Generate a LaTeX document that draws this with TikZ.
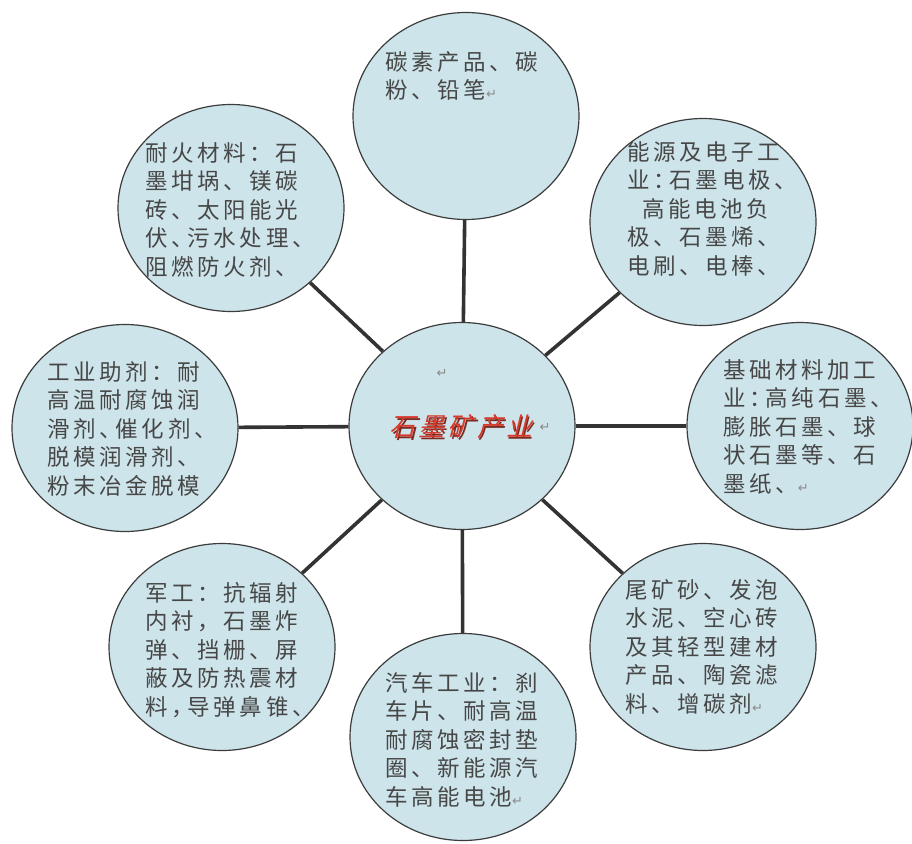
\documentclass[tikz,border=0pt]{standalone}
\usepackage{fontspec}
\usetikzlibrary{shapes.geometric}
\newfontfamily\cjk[LetterSpace=16]{Noto Sans CJK SC}
\newfontfamily\cjkslant[FakeSlant=0.25,LetterSpace=12]{Noto Sans CJK SC}
\newfontfamily\dvs{DejaVu Sans}
\definecolor{fillblue}{HTML}{CDE4EA}
\definecolor{edgec}{HTML}{3C3C3C}
\definecolor{linkc}{HTML}{333333}
\definecolor{txtgray}{HTML}{474747}
\definecolor{hubred}{HTML}{D8392B}
\definecolor{hubshade}{HTML}{7A2A20}
\definecolor{markgray}{HTML}{8A8A8A}
\newcommand{\parmark}{{\dvs\fontsize{13}{13}\selectfont\textcolor{markgray}{↵}}}
\newcommand{\sq}{\kern-6pt}
\begin{document}
\begin{tikzpicture}[x=1pt,y=-1pt,
  bubble/.style={ellipse, draw=edgec, line width=1.2pt, fill=fillblue,
    minimum width=226pt, minimum height=207pt, inner sep=0pt},
  bodytext/.style={anchor=north west, inner sep=0pt, align=left, text=txtgray,
    font=\cjk\fontsize{22.5}{28.5}\selectfont},
  spoke/.style={draw=linkc, line width=3.6pt}]
\useasboundingbox (0,0) rectangle (912,843);
\fill[white] (0,0) rectangle (912,843);

% bubbles
\node[bubble] (hub) at (462,426) {};
\node[bubble] (top) at (466,116) {};
\node[bubble] (tl) at (231,208) {};
\node[bubble] (tr) at (703,222) {};
\node[bubble] (lf) at (125,428) {};
\node[bubble] (rt) at (800,426) {};
\node[bubble] (bl) at (222,647) {};
\node[bubble] (br) at (703,647) {};
\node[bubble] (bt) at (463,737) {};

% connectors
\foreach \n in {top,tl,tr,lf,rt,bl,br,bt}
  \draw[spoke] (hub) -- (\n);

% texts
\node[bodytext] (ttop) at (385,51) {碳素产品、碳\\粉、铅笔\parmark};
\node[bodytext] (ttl) at (145,142) {耐火材料：石\\墨坩埚、镁碳\\砖、太阳能光\\伏、{\sq}污水处理、\\阻燃防火剂、};
\node[bodytext] (ttr) at (627,141) {能源及电子工\\业：{\sq}石墨电极、\\\hspace{15pt}高能电池负\\极、石墨烯、\\电刷、电棒、};
\node[bodytext] (tlf) at (47,361) {工业助剂：耐\\高温耐腐蚀润\\滑剂、{\sq}催化剂、\\脱模润滑剂、\\粉末冶金脱模};
\node[bodytext] (trt) at (723,359) {基础材料加工\\业：{\sq}高纯石墨、\\膨胀石墨、球\\状石墨等、石\\墨纸、\parmark};
\node[bodytext] (tbl) at (145,582) {军工：抗辐射\\内衬，石墨炸\\弹、挡栅、屏\\蔽及防热震材\\料，{\sq}导弹鼻锥、};
\node[bodytext] (tbr) at (625,579) {尾矿砂、发泡\\水泥、空心砖\\及其轻型建材\\产品、陶瓷滤\\料、增碳剂\parmark};
\node[bodytext] (tbt) at (385,672) {汽车工业：刹\\车片、耐高温\\耐腐蚀密封垫\\圈、新能源汽\\车高能电池\parmark};

% hub title
\node[inner sep=0pt, text=markgray] (hubmark) at (442,373) {\parmark};
\node[inner sep=0pt, text=hubshade, font=\cjkslant\fontsize{26}{26}\selectfont] (hubshadow) at (462.5,428.5) {石墨矿产业};
\node[inner sep=0pt, text=hubred, font=\cjkslant\fontsize{26}{26}\selectfont] (hubtext) at (461,427) {石墨矿产业};
\node[inner sep=0pt, anchor=west] (hubend) at ([xshift=7pt]hubtext.east) {\parmark};
\end{tikzpicture}
\end{document}
